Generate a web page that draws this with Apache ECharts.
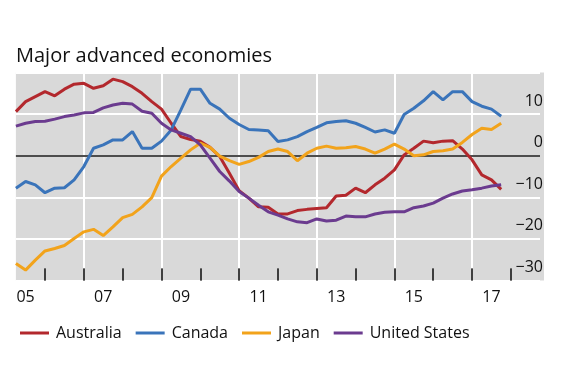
<!DOCTYPE html>
<html>
<head>
<meta charset="utf-8">
<script src="https://cdn.jsdelivr.net/npm/echarts@6/dist/echarts.min.js"></script>
<style>html,body{margin:0;padding:0;background:#fff}#c{width:570px;height:380px}</style>
</head>
<body>
<div id="c"></div>
<script>
// Quarterly categories 2005Q2 .. 2018Q4 (data end 2017Q4)
var firstYear = 2005, firstQ = 2, lastYear = 2018;
var quarters = [];
for (var y = firstYear; y <= lastYear; y++) {
  for (var q = (y === firstYear ? firstQ : 1); q <= 4; q++) quarters.push(y + 'Q' + q);
}
var australia = [10.6, 13.0, 14.2, 15.4, 14.4, 16.0, 17.2, 17.4, 16.2, 16.8, 18.4, 17.8, 16.6, 15.0, 13.0, 11.2, 7.8, 4.6, 3.9, 3.5, 2.0, -0.2, -4.2, -8.4, -10.2, -12.3, -12.4, -14.0, -14.0, -13.2, -12.9, -12.7, -12.5, -9.7, -9.5, -7.8, -8.9, -7.0, -5.4, -3.4, 0.2, 1.8, 3.5, 3.1, 3.5, 3.6, 1.6, -1.0, -4.6, -5.8, -8.1];
var canada = [-7.8, -6.2, -7.0, -8.9, -7.8, -7.7, -5.8, -2.6, 1.8, 2.6, 3.8, 3.8, 5.8, 1.8, 1.8, 3.5, 6.2, 11.0, 16.0, 16.0, 12.6, 11.2, 9.0, 7.5, 6.3, 6.2, 6.0, 3.4, 3.8, 4.6, 5.8, 6.8, 7.9, 8.2, 8.4, 7.8, 6.8, 5.7, 6.2, 5.4, 9.9, 11.4, 13.2, 15.4, 13.4, 15.4, 15.4, 13.0, 11.9, 11.2, 9.5];
var japan = [-25.9, -27.5, -25.1, -22.9, -22.3, -21.6, -19.9, -18.3, -17.7, -19.2, -17.1, -14.9, -14.1, -12.3, -10.1, -4.9, -2.6, -0.6, 1.4, 3.0, 2.0, -0.1, -1.2, -2.1, -1.4, -0.4, 1.0, 1.6, 1.0, -1.2, 0.6, 1.8, 2.3, 1.8, 1.9, 2.2, 1.6, 0.6, 1.6, 2.8, 1.6, 0.0, 0.2, 1.0, 1.2, 1.6, 3.2, 5.1, 6.6, 6.3, 7.8];
var unitedStates = [7.1, 7.8, 8.2, 8.3, 8.8, 9.4, 9.8, 10.3, 10.4, 11.5, 12.2, 12.6, 12.4, 10.7, 10.2, 7.8, 6.2, 5.4, 4.6, 2.6, -0.6, -3.8, -6.1, -8.6, -10.2, -11.9, -13.5, -14.3, -15.2, -15.9, -16.1, -15.2, -15.7, -15.5, -14.5, -14.7, -14.7, -14.0, -13.6, -13.5, -13.5, -12.5, -12.1, -11.4, -10.2, -9.2, -8.5, -8.2, -7.8, -7.3, -7.0];
var yTicks = {min: -30, max: 20, step: 10};
var seriesNames = ['Australia', 'Canada', 'Japan', 'United States'];
var colors = ['#b3282d', '#3a74ba', '#f2a31b', '#6b3b8f'];

var FONT = '"Open Sans", "Noto Sans", sans-serif';
var chart = echarts.init(document.getElementById('c'), null, {renderer: 'canvas'});
function isQ1(v){ return /Q1$/.test(v); }
function yearOf(v){ return parseInt(v.slice(0,4), 10); }
// year-start tick marks along the bottom edge (~12px tall, in axis units)
var tickLen = 2.9;
var yearTicks = quarters.filter(function(v, i){ return isQ1(v) && i > 0; }).map(function(v){
  return [{xAxis: v, yAxis: yTicks.min}, {xAxis: v, yAxis: yTicks.min + tickLen}];
});
var mk = function(name, data, color, extra){
  var s = {name: name, type: 'line', data: data, symbol: 'none', showSymbol: false,
    lineStyle: {color: color, width: 3}, itemStyle: {color: color}, z: 3, animation: false};
  if (extra) for (var k in extra) s[k] = extra[k];
  return s;
};
chart.setOption({
  animation: false,
  textStyle: {fontFamily: FONT},
  title: {text: 'Major advanced economies', left: 11, top: 41,
    textStyle: {fontFamily: FONT, fontSize: 20, fontWeight: 'normal', color: '#111'}},
  graphic: [{type: 'rect', z: -100, silent: true, shape: {x: 539, y: 72.5, width: 5, height: 208}, style: {fill: '#d9d9d9'}}],
  grid: {left: 15.9, right: 30, top: 72.5, bottom: 99.5, show: true, backgroundColor: '#d9d9d9', borderWidth: 0},
  legend: {data: seriesNames, left: 15, top: 320, itemWidth: 29, itemHeight: 3, itemGap: 14,
    icon: 'rect', textStyle: {fontFamily: FONT, fontSize: 16, color: '#111', padding: [0,0,0,2]}},
  xAxis: {type: 'category', data: quarters, boundaryGap: false, position: 'bottom',
    axisLine: {show: false, onZero: false},
    axisTick: {show: true, inside: true, length: 12, alignWithLabel: false,
      interval: function(i, v){ return isQ1(v) && i > 0; },
      lineStyle: {color: '#333', width: 1.5}},
    splitLine: {show: true, interval: function(i, v){ return isQ1(v) && yearOf(v) % 2 === 1; },
      lineStyle: {color: '#fff', width: 2}},
    axisLabel: {interval: function(i, v){ return /Q3$/.test(v) && yearOf(v) % 2 === 1 && yearOf(v) <= 2017; },
      formatter: function(v){ return v.slice(2,4); }, margin: 9,
      fontFamily: FONT, fontSize: 16, color: '#111'}},
  yAxis: {type: 'value', position: 'right', min: yTicks.min, max: yTicks.max, interval: yTicks.step,
    axisLine: {show: false}, axisTick: {show: false},
    splitLine: {show: true, lineStyle: {color: '#fff', width: 2}},
    axisLabel: {inside: true, margin: -3, verticalAlign: 'bottom', lineHeight: 26, showMaxLabel: false,
      fontFamily: FONT, fontSize: 16, color: '#111',
      formatter: function(v){ return v === yTicks.max ? '' : (v < 0 ? '\u2212' + Math.abs(v) : String(v)); }}},
  series: [
    mk(seriesNames[0], australia, colors[0], {markLine: {silent: true, symbol: 'none', label: {show: false},
      lineStyle: {color: '#4d4d4d', width: 2, type: 'solid'}, data: [{yAxis: 0}], z: 2}}),
    mk(seriesNames[1], canada, colors[1], {markLine: {silent: true, symbol: ['none', 'none'], label: {show: false},
      lineStyle: {color: '#333', width: 1.5, type: 'solid'}, data: yearTicks}}),
    mk(seriesNames[2], japan, colors[2]),
    mk(seriesNames[3], unitedStates, colors[3])
  ]
});
</script>
</body>
</html>
